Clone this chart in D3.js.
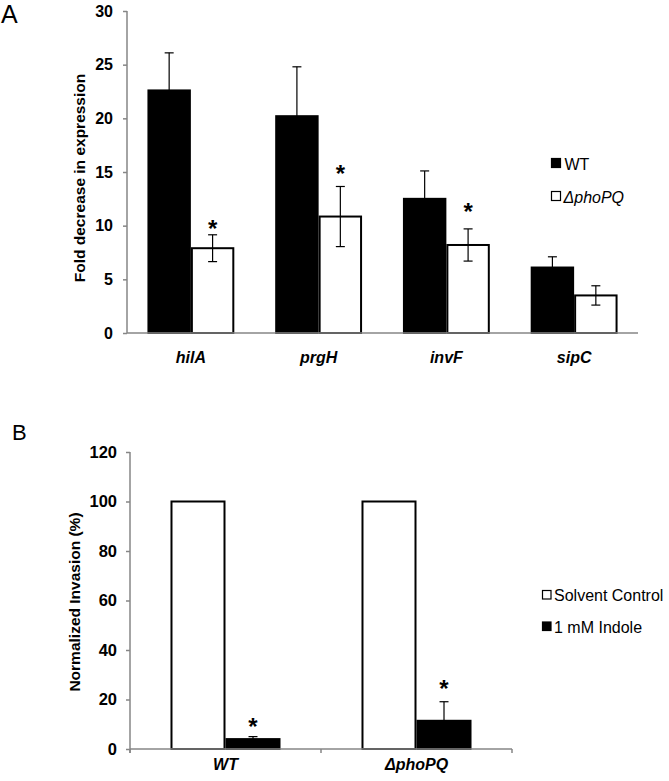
<!DOCTYPE html>
<html>
<head>
<meta charset="utf-8">
<script src="https://cdn.jsdelivr.net/npm/d3@7"></script>
<style>
  html, body { margin: 0; padding: 0; background: #fff; }
  svg { display: block; }
  text { font-family: "Liberation Sans", Arial, sans-serif; }
</style>
</head>
<body>
<svg id="chart" width="669" height="781"></svg>
<script>
// ---------- Panel A data ----------
const genes = ["hilA", "prgH", "invF", "sipC"];
const seriesA = ["WT", "ΔphoPQ"];
const wtValues = [22.6, 20.2, 12.5, 6.1];
const wtErrors = [3.5, 4.6, 2.6, 1.0];
const phoValues = [7.9, 10.85, 8.2, 3.5];
const phoErrors = [1.25, 2.8, 1.5, 0.9];
// significance asterisks over ΔphoPQ bars (annotation height, in data units; null = none)
const starLevelsA = [9.9, 15.0, 11.5, null];
const ticksA = [0, 5, 10, 15, 20, 25, 30];

// ---------- Panel B data ----------
const strains = ["WT", "ΔphoPQ"];
const seriesB = ["Solvent Control", "1 mM Indole"];
const solventValues = [100, 100];
const solventErrors = [0, 0];
const indoleValues = [4.0, 11.4];
const indoleErrors = [1.0, 7.7];
// significance asterisks over indole bars (annotation height, in data units)
const starLevelsB = [9.7, 25.2];
const ticksB = [0, 20, 40, 60, 80, 100, 120];

const svg = d3.select("#chart");
const axisColor = "#868686";
const font = '"Liberation Sans", Arial, sans-serif';
const starSize = 24;

// ================= PANEL A =================
{
  const yA = d3.scaleLinear().domain([0, 30]).range([333, 11]);
  const x0 = d3.scaleBand().domain(genes).range([127, 638]).paddingInner(0.32).paddingOuter(0.16);
  const x1 = d3.scaleBand().domain(seriesA).range([0, x0.bandwidth()]);
  const g = svg.append("g");

  const rows = genes.map((gname, i) => ({
    gene: gname,
    items: [
      { s: "WT", v: wtValues[i], e: wtErrors[i], fill: "#000", star: null },
      { s: "ΔphoPQ", v: phoValues[i], e: phoErrors[i], fill: "#fff", star: starLevelsA[i] }
    ]
  }));

  rows.forEach(r => {
    r.items.forEach(it => {
      const bx = x0(r.gene) + x1(it.s);
      g.append("rect")
        .attr("x", bx + 1).attr("y", yA(it.v))
        .attr("width", x1.bandwidth() - 2).attr("height", yA(0) - yA(it.v))
        .attr("fill", it.fill).attr("stroke", "#000").attr("stroke-width", 2);
    });
  });

  const yAxis = d3.axisLeft(yA).tickValues(ticksA).tickSize(4).tickPadding(10);
  const ya = g.append("g").attr("transform", "translate(127,0)").call(yAxis);
  ya.select(".domain").attr("stroke", axisColor).attr("stroke-width", 1.5).attr("d", "M0,11V333");
  ya.selectAll(".tick line").attr("stroke", axisColor).attr("stroke-width", 1.5);
  ya.selectAll(".tick text").attr("font-family", font).attr("font-size", 16).attr("font-weight", "bold").attr("fill", "#000");

  g.append("line").attr("x1", 127).attr("x2", 638).attr("y1", yA(0)).attr("y2", yA(0))
    .attr("stroke", axisColor).attr("stroke-width", 1.5);

  rows.forEach(r => {
    r.items.forEach(it => {
      const cx = x0(r.gene) + x1(it.s) + x1.bandwidth() / 2;
      const top = yA(it.v + it.e), bot = yA(it.v - it.e);
      g.append("line").attr("x1", cx).attr("x2", cx).attr("y1", top).attr("y2", bot).attr("stroke", "#000").attr("stroke-width", 1.2);
      [top, bot].forEach(yy => g.append("line").attr("x1", cx - 4.5).attr("x2", cx + 4.5).attr("y1", yy).attr("y2", yy).attr("stroke", "#000").attr("stroke-width", 1.2));
      if (it.star != null) {
        g.append("text").attr("x", cx).attr("y", yA(it.star) + starSize * 0.43).attr("text-anchor", "middle")
          .attr("font-size", starSize).attr("font-weight", "bold").text("*");
      }
    });
  });

  g.selectAll(".xlab").data(genes).enter().append("text")
    .attr("x", d => x0(d) + x0.bandwidth() / 2).attr("y", 363)
    .attr("text-anchor", "middle").attr("font-size", 16).attr("font-weight", "bold").attr("font-style", "italic")
    .text(d => d);

  g.append("text").attr("transform", "translate(85,178) rotate(-90)").attr("text-anchor", "middle")
    .attr("font-size", 15.5).attr("font-weight", "bold").text("Fold decrease in expression");

  g.append("text").attr("x", 1).attr("y", 23).attr("font-size", 25).text("A");

  const leg = g.append("g");
  seriesA.forEach((s, i) => {
    const yy = 158 + i * 33;
    leg.append("rect").attr("x", 551.5).attr("y", yy + 0.5).attr("width", 9).attr("height", 9)
      .attr("fill", i === 0 ? "#000" : "#fff").attr("stroke", "#000").attr("stroke-width", 1.2);
    leg.append("text").attr("x", i === 0 ? 564.5 : 563.5).attr("y", yy + 12).attr("font-size", 16)
      .attr("font-style", i === 1 ? "italic" : "normal").text(s);
  });
}

// ================= PANEL B =================
{
  const yB = d3.scaleLinear().domain([0, 120]).range([749, 452]);
  const x0 = d3.scaleBand().domain(strains).range([130, 512]).paddingInner(0.424).paddingOuter(0.212);
  const x1 = d3.scaleBand().domain(seriesB).range([0, x0.bandwidth()]);
  const g = svg.append("g");

  const rows = strains.map((sname, i) => ({
    strain: sname,
    items: [
      { s: "Solvent Control", v: solventValues[i], e: solventErrors[i], fill: "#fff", star: null },
      { s: "1 mM Indole", v: indoleValues[i], e: indoleErrors[i], fill: "#000", star: starLevelsB[i] }
    ]
  }));

  rows.forEach(r => {
    r.items.forEach(it => {
      const bx = x0(r.strain) + x1(it.s);
      g.append("rect")
        .attr("x", bx + 1).attr("y", yB(it.v))
        .attr("width", x1.bandwidth() - 2).attr("height", yB(0) - yB(it.v))
        .attr("fill", it.fill).attr("stroke", "#000").attr("stroke-width", 2);
    });
  });

  const yAxis = d3.axisLeft(yB).tickValues(ticksB).tickSize(4).tickPadding(9);
  const ya = g.append("g").attr("transform", "translate(130,0)").call(yAxis);
  ya.select(".domain").attr("stroke", axisColor).attr("stroke-width", 1.5).attr("d", "M0,452V753");
  ya.selectAll(".tick line").attr("stroke", axisColor).attr("stroke-width", 1.5);
  ya.selectAll(".tick text").attr("font-family", font).attr("font-size", 16.5).attr("font-weight", "bold").attr("fill", "#000");

  g.append("line").attr("x1", 130).attr("x2", 512).attr("y1", yB(0)).attr("y2", yB(0))
    .attr("stroke", axisColor).attr("stroke-width", 1.5);
  const step = x0.step();
  const boundaries = d3.range(strains.length + 1).map(k => 130 + k * step);
  boundaries.forEach(bx => g.append("line").attr("x1", bx).attr("x2", bx).attr("y1", yB(0)).attr("y2", yB(0) + 4)
    .attr("stroke", axisColor).attr("stroke-width", 1.5));

  rows.forEach(r => {
    r.items.forEach(it => {
      const cx = x0(r.strain) + x1(it.s) + x1.bandwidth() / 2;
      if (it.e > 0) {
        const top = yB(it.v + it.e), bot = yB(Math.max(0, it.v - it.e));
        g.append("line").attr("x1", cx).attr("x2", cx).attr("y1", top).attr("y2", bot).attr("stroke", "#000").attr("stroke-width", 1.2);
        g.append("line").attr("x1", cx - 4.5).attr("x2", cx + 4.5).attr("y1", top).attr("y2", top).attr("stroke", "#000").attr("stroke-width", 1.2);
      }
      if (it.star != null) {
        g.append("text").attr("x", cx).attr("y", yB(it.star) + starSize * 0.43).attr("text-anchor", "middle")
          .attr("font-size", starSize).attr("font-weight", "bold").text("*");
      }
    });
  });

  g.selectAll(".xlab").data(strains).enter().append("text")
    .attr("x", d => x0(d) + x0.bandwidth() / 2).attr("y", 770)
    .attr("text-anchor", "middle").attr("font-size", 16).attr("font-weight", "bold").attr("font-style", "italic")
    .text(d => d);

  g.append("text").attr("transform", "translate(80,602) rotate(-90)").attr("text-anchor", "middle")
    .attr("font-size", 15.5).attr("font-weight", "bold").text("Normalized Invasion (%)");

  g.append("text").attr("x", 12).attr("y", 440).attr("font-size", 22).text("B");

  const leg = g.append("g");
  seriesB.forEach((s, i) => {
    const yy = 590 + i * 31.5;
    leg.append("rect").attr("x", 542.5).attr("y", yy + 0.5).attr("width", 8.5).attr("height", 8.5)
      .attr("fill", i === 0 ? "#fff" : "#000").attr("stroke", "#000").attr("stroke-width", 1.2);
    leg.append("text").attr("x", 554).attr("y", yy + 11).attr("font-size", 16).text(s);
  });
}
</script>
</body>
</html>
